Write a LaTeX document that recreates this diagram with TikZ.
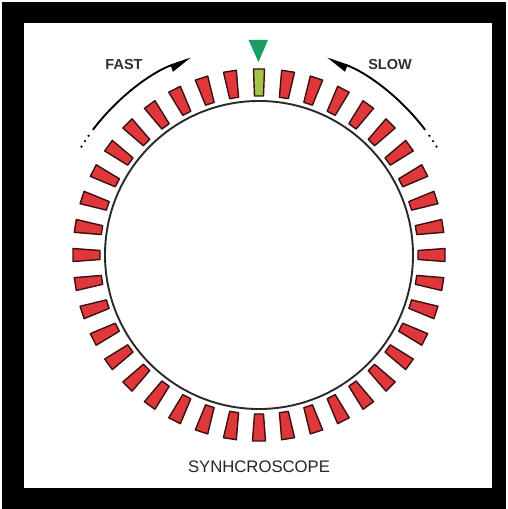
\documentclass[tikz,border=0pt]{standalone}
\usepackage{fontspec}
\setmainfont{Liberation Sans}
\usetikzlibrary{arrows.meta}
\definecolor{segred}{HTML}{E0383A}
\definecolor{segline}{HTML}{3A1010}
\definecolor{seggreen}{HTML}{A3C447}
\definecolor{pointgreen}{HTML}{1B9C62}
\definecolor{ringgray}{HTML}{2A2A2A}
\definecolor{txt}{HTML}{303030}
\tikzset{
  segbox/.style={draw=segline, line width=1.4pt, line join=round},
  dialarc/.style={line width=1.9pt, black},
  labeltxt/.style={text=txt, font=\fontsize{14.5}{16}\selectfont\bfseries, inner sep=0pt},
  titletxt/.style={text=black!85, font=\fontsize{16.7}{19}\selectfont, inner sep=0pt}
}
\begin{document}
\begin{tikzpicture}[x=1pt,y=1pt]
\useasboundingbox (0,0) rectangle (508,509);
\fill[white] (0,0) rectangle (508,509);
\fill[black] (2,0) rectangle (506,507);
\fill[white] (24,21) rectangle (492,486);
\begin{scope}[shift={(259,254)}]
  \draw[line width=1.9pt, ringgray] (0,0) circle[radius=154];
  \foreach \i in {1,...,39}{
    \pgfmathsetmacro\ang{90+9*\i}
    \draw[segbox, fill=segred, rotate=\ang] (159,-4.5) -- (186,-6.5) -- (186,6.5) -- (159,4.5) -- cycle;
  }
  \draw[segbox, fill=seggreen, rotate=90] (159,-4.5) -- (186,-5.5) -- (186,5.5) -- (159,4.5) -- cycle;
  \fill[pointgreen] (-10.5,215) -- (9,215) -- (-0.5,193) -- cycle;
  \draw[dialarc, -{Triangle[harpoon,swap,length=19pt,width=13pt]}] (143:208) arc[start angle=143, end angle=109, radius=208];
  \draw[dialarc, -{Triangle[harpoon,length=19pt,width=13pt]}] (37:208) arc[start angle=37, end angle=71, radius=208];
  \foreach \a in {145,146.8,148.6}{
    \fill (\a:208) circle[radius=1.2];
    \fill (180-\a:208) circle[radius=1.2];
  }
\end{scope}
\node[labeltxt] (fast) at (124,444) {FAST};
\node[labeltxt] (slow) at (390,444) {SLOW};
\node[titletxt] (title) at (259,42.5) {SYNHCROSCOPE};
\end{tikzpicture}
\end{document}
